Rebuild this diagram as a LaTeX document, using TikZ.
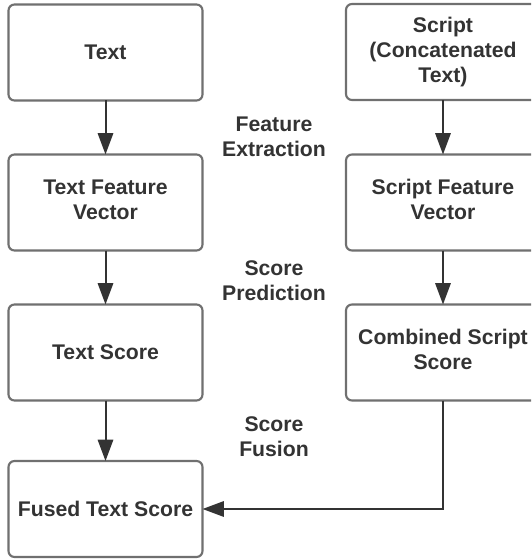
\documentclass[tikz,border=0pt]{standalone}
\usepackage{fontspec}
\setmainfont{Liberation Sans}
\usetikzlibrary{arrows.meta}
\definecolor{txt}{HTML}{333333}
\definecolor{bord}{HTML}{707070}
\definecolor{arr}{HTML}{333333}
\begin{document}
\begin{tikzpicture}[x=0.75pt,y=-0.75pt,
  box/.style={draw=bord,line width=1.6pt,rounded corners=4.5pt,fill=white,
    minimum width=145.5pt,minimum height=72pt,inner sep=0pt,outer sep=0pt,
    align=center,text=txt,font=\bfseries\fontsize{15.9pt}{18.75pt}\selectfont},
  raised/.style={text depth=4.5pt},
  lbl/.style={align=center,text=txt,inner sep=0pt,
    font=\bfseries\fontsize{15.9pt}{18.75pt}\selectfont},
  flow/.style={draw=arr,line width=1.5pt,-{Triangle[length=16pt,width=11.5pt]}}]
\useasboundingbox (0,0) rectangle (531,559);
\clip (0,0) rectangle (531,559);
\fill[white] (0,0) rectangle (531,559);
% left column
\node[box] (text) at (105.5,52.5) {Text};
\node[box,raised] (tfv) at (105.5,202.5) {Text Feature\\Vector};
\node[box] (ts) at (105.5,352.5) {Text Score};
\node[box] (fts) at (105.5,509) {Fused Text Score};
% right column
\node[box] (script) at (443,52) {Script\\(Concatenated\\Text)};
\node[box,raised] (sfv) at (443,202.5) {Script Feature\\Vector};
\node[box,raised] (css) at (443,352.5) {Combined Script\\Score};
% labels
\node[lbl] (l1) at (274,137) {Feature\\Extraction};
\node[lbl] (l2) at (274,281) {Score\\Prediction};
\node[lbl] (l3) at (274,437) {Score\\Fusion};
% connectors
\draw[flow] (text.south) -- (tfv.north);
\draw[flow] (tfv.south) -- (ts.north);
\draw[flow] (ts.south) -- (fts.north);
\draw[flow] (script.south) -- (sfv.north);
\draw[flow] (sfv.south) -- (css.north);
\draw[flow] (css.south) |- (fts.east);
\end{tikzpicture}
\end{document}
